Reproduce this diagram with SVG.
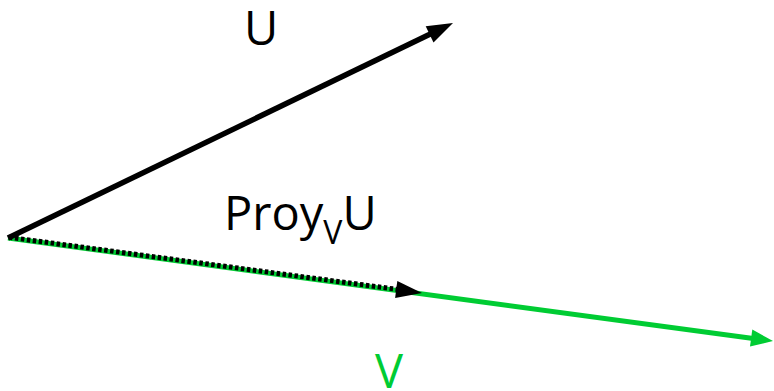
<svg xmlns="http://www.w3.org/2000/svg" width="774" height="391" viewBox="0 0 774 391">
<style>
.lbl{font-family:"Open Sans","Liberation Sans",sans-serif;font-size:47px;fill:#000}
.green{fill:#00CC33}
</style>
<rect width="774" height="391" fill="#fff"/>
<g id="connectors">
  <g id="vecV">
    <line x1="8" y1="238" x2="757" y2="339" stroke="#00CC33" stroke-width="5"/>
    <polygon points="773,341 750,346.5 752.3,329.6" fill="#00CC33"/>
  </g>
  <g id="proj">
    <line x1="9" y1="237.3" x2="398" y2="289.5" stroke="#000" stroke-width="5" stroke-dasharray="3.5 2.5"/>
    <polygon points="422,293 395.1,297.9 397.3,281.1" fill="#000"/>
  </g>
  <g id="vecU">
    <line x1="8" y1="238" x2="435" y2="31.7" stroke="#000" stroke-width="5.5"/>
    <polygon points="453,23 433.5,42.4 425.7,26.2" fill="#000"/>
  </g>
</g>
<g id="labelU"><text class="lbl" x="244" y="45">U</text></g>
<g id="labelProj"><text class="lbl" x="224" y="230">Proy<tspan font-size="32" dy="14">V</tspan><tspan dy="-14">U</tspan></text></g>
<g id="labelV"><text class="lbl green" x="375" y="388">V</text></g>
</svg>
